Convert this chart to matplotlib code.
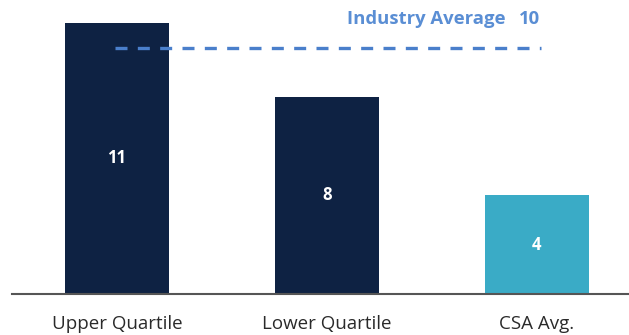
import matplotlib
matplotlib.use("Agg")
import matplotlib.pyplot as plt

categories = ["Upper Quartile", "Lower Quartile", "CSA Avg."]
values = [11, 8, 4]
bar_colors = ["#0E2243", "#0E2243", "#3AABC6"]
industry_label = "Industry Average"
industry_value = 10

plt.rcParams["font.family"] = ["Open Sans", "DejaVu Sans"]

W, H = 629, 335
fig = plt.figure(figsize=(W / 100, H / 100), dpi=100)
base_px = 294
ax = fig.add_axes([12 / W, (H - base_px) / H, (W - 12) / W, base_px / H])

unit_px = 24.64
spacing = 210.0
ax.set_xlim(-105 / spacing, (W - 117) / spacing)
ax.set_ylim(0, base_px / unit_px)

x = list(range(len(categories)))
ax.bar(x, values, width=0.495, color=bar_colors, zorder=2)
for xi, v in zip(x, values):
    ax.text(xi, v / 2, str(v), ha="center", va="center", color="white",
            fontsize=12, fontweight="bold", zorder=3)

# industry average reference line
ax.plot([-0.01, 2.02], [industry_value, industry_value], color="#4A7FCB",
        lw=2.4, dashes=(3.6, 3.1), zorder=4)
ax.text(1.848, 11.16, industry_label, ha="right", va="center",
        color="#5A8ED4", fontsize=13.3, fontweight="bold")
ax.text(1.914, 11.16, str(industry_value), ha="left", va="center",
        color="#5A8ED4", fontsize=13.3, fontweight="bold")

for s in ["top", "right", "left"]:
    ax.spines[s].set_visible(False)
ax.spines["bottom"].set_color("#555555")
ax.spines["bottom"].set_linewidth(1.5)
ax.set_yticks([])
ax.set_xticks(x)
ax.set_xticklabels(categories, fontsize=13.5, color="#2A2A2A")
ax.tick_params(axis="x", length=0, pad=15)

fig.savefig("out.png", dpi=100)
